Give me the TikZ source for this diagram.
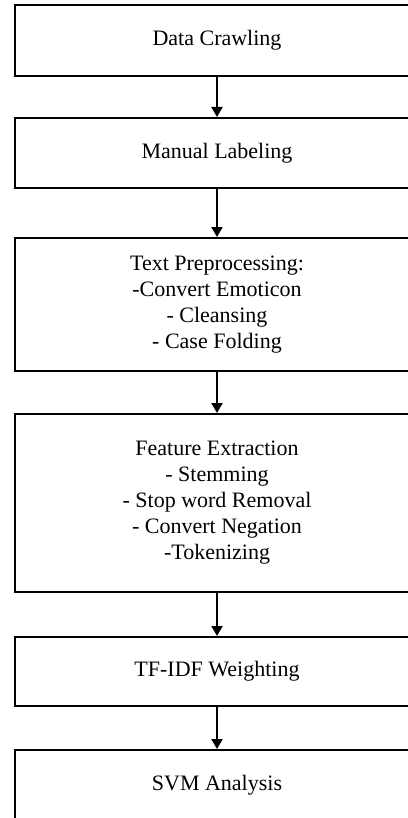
\documentclass[tikz,border=0pt]{standalone}
\usepackage{fontspec}
\setmainfont{Liberation Serif}
\usetikzlibrary{arrows.meta}

\begin{document}
\begin{tikzpicture}[x=0.5pt, y=-0.5pt,
		stage/.style={draw, line width=1pt, minimum width=202pt, align=center,
			inner sep=0pt, font=\fontsize{11}{13}\selectfont},
		flow/.style={-{Triangle[length=5pt,width=5.5pt]}, line width=1pt}]
					% Fix the page size
					\useasboundingbox (0,0) rectangle (407,818);
					
					% Draw the stages
					\node[stage, minimum height=35.5pt] (crawl) at (217,40.5) {Data Crawling};
					\node[stage, minimum height=35pt] (label) at (217,153) {Manual Labeling};
					\node[stage, minimum height=66.5pt] (prep) at (217,304.5) {Text Preprocessing:\\-Convert Emoticon\\- Cleansing\\- Case Folding};
					\node[stage, minimum height=89pt] (feat) at (217,503) {Feature Extraction\\- Stemming\\- Stop word Removal\\- Convert Negation\\-Tokenizing};
					\node[stage, minimum height=34.5pt] (tfidf) at (217,671.5) {TF-IDF Weighting};
					\node[stage, minimum height=35pt] (svm) at (217,785) {SVM Analysis};
					
					% Draw the arrows
					\draw[flow] (crawl) -- (label);
					\draw[flow] (label) -- (prep);
					\draw[flow] (prep) -- (feat);
					\draw[flow] (feat) -- (tfidf);
					\draw[flow] (tfidf) -- (svm);
				\end{tikzpicture}
\end{document}
